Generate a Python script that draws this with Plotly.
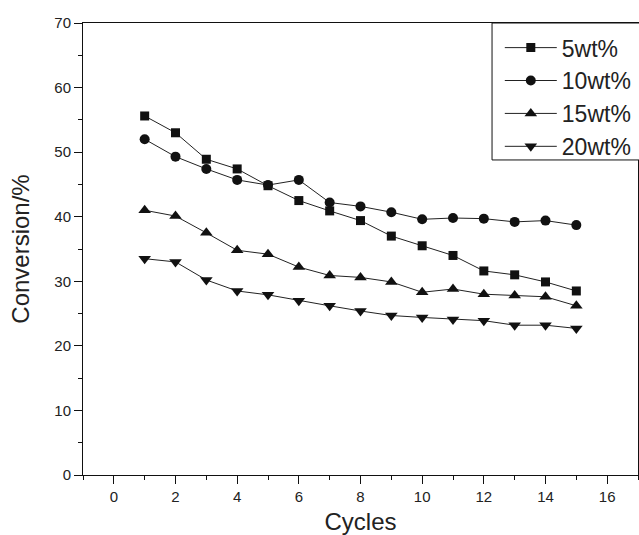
import plotly.graph_objects as go

cycles = list(range(1, 16))
wt5 = [55.6, 53.0, 48.9, 47.4, 44.8, 42.5, 40.9, 39.4, 37.0, 35.5, 34.0, 31.6, 31.0, 29.9, 28.5]
wt10 = [52.0, 49.3, 47.4, 45.7, 44.9, 45.7, 42.2, 41.6, 40.7, 39.6, 39.8, 39.7, 39.2, 39.4, 38.7]
wt15 = [41.0, 40.1, 37.5, 34.8, 34.2, 32.2, 30.9, 30.6, 29.9, 28.3, 28.8, 28.0, 27.8, 27.6, 26.2]
wt20 = [33.5, 33.0, 30.2, 28.5, 27.9, 27.0, 26.2, 25.4, 24.7, 24.4, 24.1, 23.9, 23.2, 23.2, 22.7]
names = ["5wt%", "10wt%", "15wt%", "20wt%"]
x_ticks = [0, 2, 4, 6, 8, 10, 12, 14, 16]
y_ticks = [0, 10, 20, 30, 40, 50, 60, 70]

series = [wt5, wt10, wt15, wt20]
symbols = ["square", "circle", "triangle-up", "triangle-down"]
sizes = [9, 10, 11, 11]

fig = go.Figure()
for name, vals, sym, sz in zip(names, series, symbols, sizes):
    fig.add_trace(go.Scatter(
        x=cycles, y=vals, name=name, mode="lines+markers",
        line=dict(color="#222222", width=1),
        marker=dict(symbol=sym, size=sz, color="#111111"),
    ))

# legend frame (extends past the right edge as in the reference)
fig.add_shape(
    type="rect", xref="paper", yref="paper",
    x0=0.737, x1=1.2, y0=0.697, y1=1.0,
    line=dict(color="#111111", width=1), fillcolor="white", layer="above",
)

font_family = "Liberation Sans, Arial, Helvetica, sans-serif"
fig.update_layout(
    width=639, height=535,
    margin=dict(l=83, r=1, t=23, b=60),
    paper_bgcolor="white", plot_bgcolor="white",
    font=dict(family=font_family, color="#222222", size=15),
    legend=dict(
        x=0.751, y=0.993, xanchor="left", yanchor="top",
        borderwidth=0, bgcolor="rgba(0,0,0,0)",
        font=dict(size=23, family=font_family, color="#222222"),
        tracegroupgap=0, itemwidth=52,
    ),
    showlegend=True,
)
fig.update_xaxes(
    range=[-1, 17], tickvals=x_ticks, ticks="outside", ticklen=8, tickwidth=1,
    tickcolor="#111111", showline=True, linecolor="#111111", linewidth=1, mirror=True,
    showgrid=False, zeroline=False, tickfont=dict(size=15),
    minor=dict(ticks="outside", ticklen=4, dtick=1, tickcolor="#111111", showgrid=False),
    title=dict(text="Cycles", font=dict(size=24), standoff=11),
)
fig.update_yaxes(
    range=[0, 70], tickvals=y_ticks, ticks="outside", ticklen=8, tickwidth=1,
    tickcolor="#111111", showline=True, linecolor="#111111", linewidth=1, mirror=True,
    showgrid=False, zeroline=False, tickfont=dict(size=15),
    minor=dict(ticks="outside", ticklen=4, dtick=5, tickcolor="#111111", showgrid=False),
    title=dict(text="Conversion/%", font=dict(size=24), standoff=17),
)
fig.write_html("out.html", config={"displayModeBar": False},
               post_script="document.body.style.margin='0px';")
